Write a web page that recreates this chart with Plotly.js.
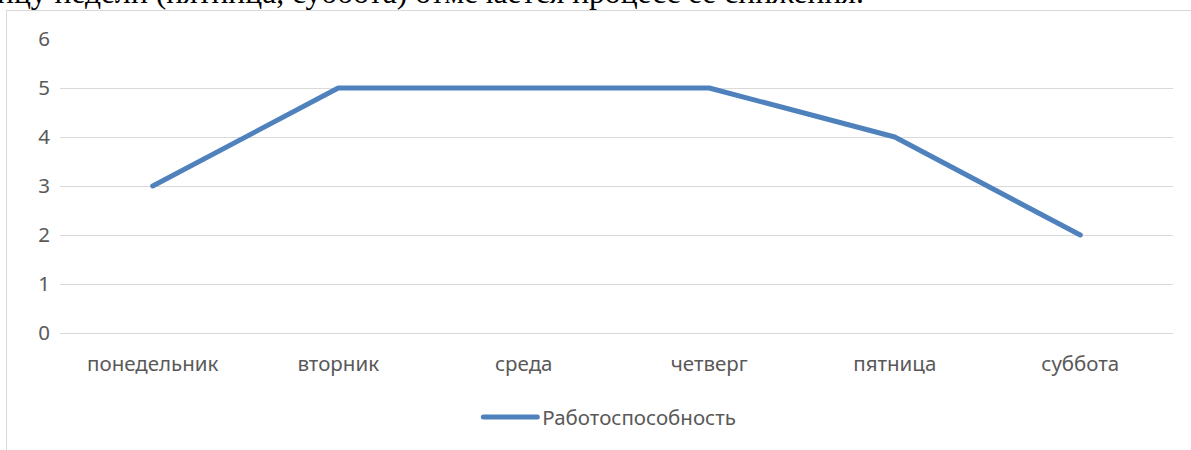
<!DOCTYPE html>
<html>
<head>
<meta charset="utf-8">
<script src="https://cdn.plot.ly/plotly-3.0.1.min.js"></script>
<style>
  html, body { margin: 0; padding: 0; background: #fff; overflow: hidden; }
  #doc { position: absolute; left: 0; top: -23px; font-family: "Liberation Serif", serif; font-size: 31.6px; line-height: 31px; color: #000; white-space: nowrap; margin-left: -3px; }
  #frame { position: absolute; left: 6px; top: 10px; width: 1200px; height: 460px; border: 1px solid #d9d9d9; box-sizing: border-box; }
  #chart { position: absolute; left: 0; top: 0; width: 1191px; height: 450px; }
  .scatterlayer .js-line, .legend .js-line { stroke-linecap: round; stroke-linejoin: round; }
</style>
</head>
<body>
<div id="doc">ицу недели (пятница, суббота) отмечается процесс ее снижения.</div>
<div id="frame"></div>
<div id="chart"></div>
<script>
const categories = ["понедельник", "вторник", "среда", "четверг", "пятница", "суббота"];
const seriesName = "Работоспособность";
const values = [3, 5, 5, 5, 4, 2];
const yTicks = [0, 1, 2, 3, 4, 5, 6];

const trace = {
  x: categories,
  y: values,
  type: "scatter",
  mode: "lines",
  name: seriesName,
  line: { color: "#4F81BD", width: 5 },
  hoverinfo: "x+y"
};

const layout = {
  width: 1191,
  height: 450,
  paper_bgcolor: "rgba(0,0,0,0)",
  plot_bgcolor: "rgba(0,0,0,0)",
  margin: { l: 60, r: 18, t: 39, b: 117 },
  font: { family: "Noto Sans, sans-serif", size: 20.5, color: "#595959" },
  showlegend: true,
  legend: {
    orientation: "h",
    x: 0.494, xanchor: "center",
    y: -0.218, yanchor: "top",
    font: { size: 20.5, color: "#595959" },
    itemwidth: 54
  },
  xaxis: {
    type: "category",
    range: [-0.5, 5.5],
    showgrid: false,
    showline: false,
    zeroline: false,
    ticks: "",
    ticklabelstandoff: 16,
    tickfont: { size: 20.5, color: "#595959" }
  },
  yaxis: {
    range: [0, 6],
    tickvals: yTicks,
    ticktext: yTicks.map(String),
    showgrid: true,
    gridcolor: "#D9D9D9",
    gridwidth: 1,
    zeroline: true,
    zerolinecolor: "#D9D9D9",
    zerolinewidth: 1,
    showline: false,
    ticks: "",
    ticklabelstandoff: 9,
    tickfont: { size: 20.5, color: "#595959" }
  }
};

Plotly.newPlot("chart", [trace], layout, { displayModeBar: false, staticPlot: true });
</script>
</body>
</html>
